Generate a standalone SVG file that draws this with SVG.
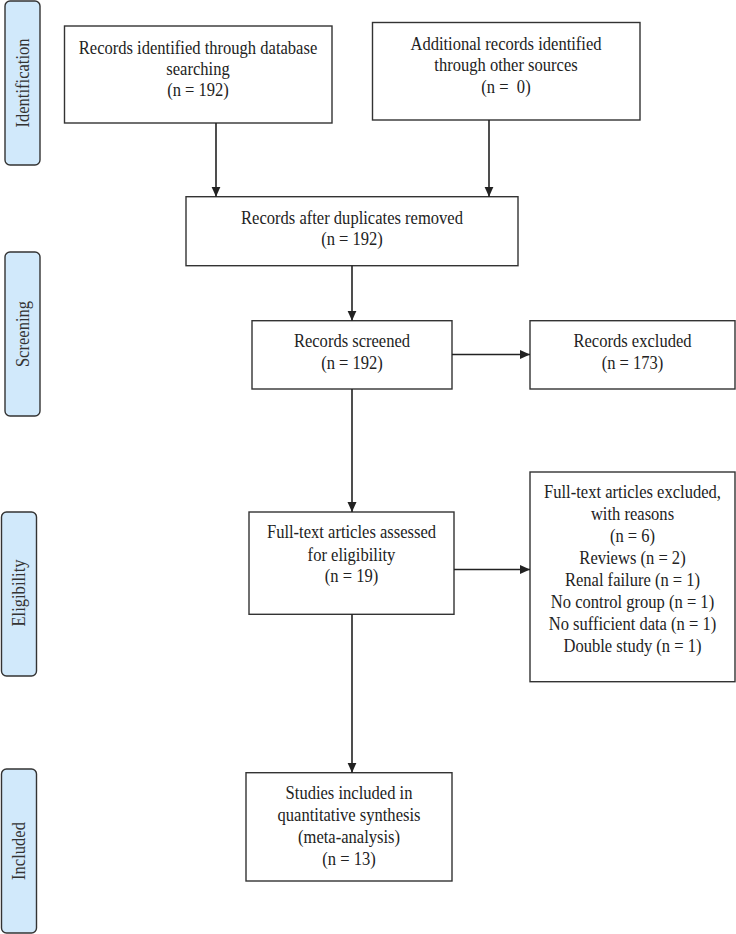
<svg xmlns="http://www.w3.org/2000/svg" width="736" height="934" viewBox="0 0 736 934">
<defs>
<marker id="ah" markerWidth="10" markerHeight="10" viewBox="0 0 10 10" refX="10" refY="5" orient="auto" markerUnits="userSpaceOnUse">
<path d="M0,0.5 L10,5 L0,9.5 Z" fill="#222"/>
</marker>
</defs>
<style>
.box{fill:#fff;stroke:#333;stroke-width:1.4}
.phase{fill:#d1e9fb;stroke:#333;stroke-width:1.4}
.t{font-family:"Liberation Serif","Times New Roman",serif;font-size:18px;fill:#222;text-anchor:middle}
.pt{font-family:"Liberation Serif","Times New Roman",serif;font-size:18px;fill:#333;text-anchor:middle}
.c{fill:none;stroke:#222;stroke-width:1.6;marker-end:url(#ah)}
</style>
<rect width="736" height="934" fill="#fff"/>

<g id="phase-identification">
<rect class="phase" x="5" y="1" width="35" height="164" rx="5"/>
<text class="pt" transform="translate(28.5,83) rotate(-90) scale(0.92,1)">Identification</text>
</g>
<g id="phase-screening">
<rect class="phase" x="5" y="252" width="35" height="164" rx="5"/>
<text class="pt" transform="translate(28.5,334) rotate(-90) scale(0.92,1)">Screening</text>
</g>
<g id="phase-eligibility">
<rect class="phase" x="1.5" y="512" width="35" height="164" rx="5"/>
<text class="pt" transform="translate(25,593) rotate(-90) scale(0.92,1)">Eligibility</text>
</g>
<g id="phase-included">
<rect class="phase" x="1.5" y="769" width="35" height="164" rx="5"/>
<text class="pt" transform="translate(25,851) rotate(-90) scale(0.92,1)">Included</text>
</g>

<g id="node-db">
<rect class="box" x="64.5" y="26" width="267.5" height="97"/>
<text class="t" transform="translate(198,0) scale(0.92,1)"><tspan x="0" y="54">Records identified through database</tspan><tspan x="0" y="75">searching</tspan><tspan x="0" y="96">(n = 192)</tspan></text>
</g>
<g id="node-other">
<rect class="box" x="372.5" y="22.5" width="267.5" height="97.5"/>
<text class="t" transform="translate(506,0) scale(0.92,1)"><tspan x="0" y="50">Additional records identified</tspan><tspan x="0" y="71.5">through other sources</tspan><tspan x="0" y="93">(n =&#160; 0)</tspan></text>
</g>
<g id="node-dup">
<rect class="box" x="186" y="196.7" width="332" height="69"/>
<text class="t" transform="translate(352,0) scale(0.92,1)"><tspan x="0" y="224">Records after duplicates removed</tspan><tspan x="0" y="245.5">(n = 192)</tspan></text>
</g>
<g id="node-screened">
<rect class="box" x="252" y="320.7" width="200" height="68.3"/>
<text class="t" transform="translate(352,0) scale(0.92,1)"><tspan x="0" y="347.5">Records screened</tspan><tspan x="0" y="369">(n = 192)</tspan></text>
</g>
<g id="node-excluded">
<rect class="box" x="530" y="320.7" width="205" height="68.3"/>
<text class="t" transform="translate(632.5,0) scale(0.92,1)"><tspan x="0" y="347.5">Records excluded</tspan><tspan x="0" y="369">(n = 173)</tspan></text>
</g>
<g id="node-fulltext">
<rect class="box" x="249" y="512" width="205" height="102.3"/>
<text class="t" transform="translate(351.5,0) scale(0.92,1)"><tspan x="0" y="538.3">Full-text articles assessed</tspan><tspan x="0" y="560.5">for eligibility</tspan><tspan x="0" y="582.5">(n = 19)</tspan></text>
</g>
<g id="node-ft-excluded">
<rect class="box" x="530" y="472" width="205" height="209.7"/>
<text class="t" transform="translate(632.5,0) scale(0.92,1)"><tspan x="0" y="498">Full-text articles excluded,</tspan><tspan x="0" y="520">with reasons</tspan><tspan x="0" y="542">(n = 6)</tspan><tspan x="0" y="564">Reviews (n = 2)</tspan><tspan x="0" y="586">Renal failure (n = 1)</tspan><tspan x="0" y="608">No control group (n = 1)</tspan><tspan x="0" y="630">No sufficient data (n = 1)</tspan><tspan x="0" y="652">Double study (n = 1)</tspan></text>
</g>
<g id="node-included">
<rect class="box" x="246" y="772.7" width="206" height="108.3"/>
<text class="t" transform="translate(349,0) scale(0.92,1)"><tspan x="0" y="799.5">Studies included in</tspan><tspan x="0" y="821.5">quantitative synthesis</tspan><tspan x="0" y="843.5">(meta-analysis)</tspan><tspan x="0" y="865.5">(n = 13)</tspan></text>
</g>

<g id="connectors">
<line class="c" x1="216" y1="123" x2="216" y2="196.7"/>
<line class="c" x1="489" y1="120" x2="489" y2="196.7"/>
<line class="c" x1="352" y1="265.7" x2="352" y2="320.7"/>
<line class="c" x1="452" y1="354.5" x2="530" y2="354.5"/>
<line class="c" x1="352" y1="389" x2="352" y2="512"/>
<line class="c" x1="454" y1="569.5" x2="530" y2="569.5"/>
<line class="c" x1="352" y1="614.3" x2="352" y2="772.7"/>
</g>
</svg>
